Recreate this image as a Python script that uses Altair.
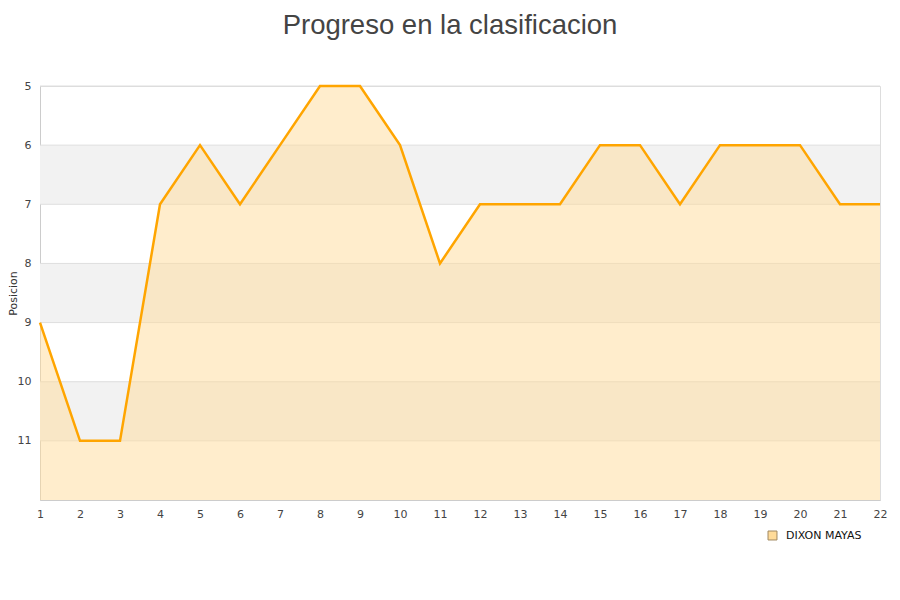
import altair as alt
import pandas as pd

jornadas = list(range(1, 23))
posiciones = [9, 11, 11, 7, 6, 7, 6, 5, 5, 6, 8, 7, 7, 7, 6, 6, 7, 6, 6, 6, 7, 7]
equipo = "DIXON MAYAS"
band_start = [6, 8, 10]
band_end = [7, 9, 11]
grid_vals = [5, 6, 7, 8, 9, 10, 11]
y_ticks = [5, 6, 7, 8, 9, 10, 11]

W, H = 840, 414

df = pd.DataFrame({"Jornada": jornadas, "Posicion": posiciones, "Equipo": [equipo] * len(jornadas)})
bands = pd.DataFrame({"y1": band_start, "y2": band_end})
grid = pd.DataFrame({"g": grid_vals})

yscale = alt.Scale(domain=[5, 12], reverse=True, nice=False, zero=False)
xscale = alt.Scale(domain=[1, 22], nice=False, zero=False)

yaxis = alt.Axis(values=y_ticks, format="d", grid=False, ticks=False, labelPadding=9, labelFontSize=11,
                 labelColor="#444444", labelFont="DejaVu Sans", domainColor="#cccccc",
                 title="Posicion", titleFontSize=11, titleFont="DejaVu Sans", titleFontWeight="normal",
                 titleColor="#333333", titlePadding=-1)
xaxis = alt.Axis(values=jornadas, format="d", grid=False, ticks=False, labelPadding=8, labelFontSize=11,
                 labelColor="#444444", labelFont="DejaVu Sans", domainColor="#cccccc",
                 title=None, labelAngle=0, labelOverlap=False, labelFlush=False, labelBound=False)

band_layer = alt.Chart(bands).mark_rect(color="#f2f2f2").encode(
    y=alt.Y("y1:Q", scale=yscale, axis=yaxis),
    y2="y2:Q",
    x=alt.value(0),
    x2=alt.value(W),
)

grid_layer = alt.Chart(grid).mark_rule(color="#dedede", strokeWidth=1).encode(
    y=alt.Y("g:Q", scale=yscale, axis=yaxis),
    x=alt.value(0),
    x2=alt.value(W),
)

area_layer = alt.Chart(df).mark_area(opacity=0.5).encode(
    x=alt.X("Jornada:Q", scale=xscale, axis=xaxis),
    y=alt.Y("Posicion:Q", scale=yscale, axis=yaxis),
    y2=alt.datum(12),
    color=alt.Color("Equipo:N", scale=alt.Scale(range=["#ffdb99"]),
                    legend=alt.Legend(title=None, orient="none", legendX=727, legendY=444,
                                      symbolType="square", symbolSize=80, labelOffset=8,
                                      symbolStrokeColor="#a08860", symbolStrokeWidth=1,
                                      symbolFillColor="#ffe7bb",
                                      symbolOpacity=1, labelFontSize=11, labelFont="DejaVu Sans",
                                      labelColor="#111111")),
)

line_layer = alt.Chart(df).mark_line(color="#ffa500", strokeWidth=2.5).encode(
    x=alt.X("Jornada:Q", scale=xscale, axis=xaxis),
    y=alt.Y("Posicion:Q", scale=yscale, axis=yaxis),
)

chart = alt.layer(band_layer, grid_layer, area_layer, line_layer).properties(
    width=W,
    height=H,
    padding={"left": 32, "top": 78, "right": 12, "bottom": 80},
    autosize=alt.AutoSizeParams(type="none"),
    title=alt.TitleParams("Progreso en la clasificacion", font="Liberation Sans", fontSize=27.5,
                          fontWeight="normal", color="#444444", anchor="middle", frame="group",
                          baseline="alphabetic", offset=19, dx=-10),
).configure_view(stroke="#dddddd")

chart.save("out.html", embed_options={"renderer": "svg", "actions": False})
